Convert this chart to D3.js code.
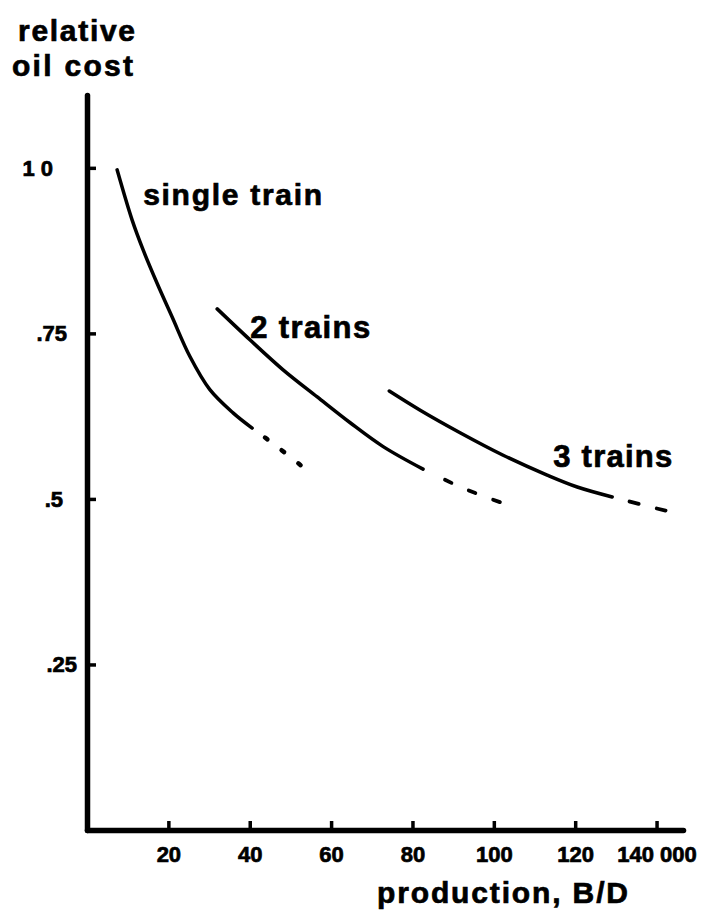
<!DOCTYPE html>
<html>
<head>
  <title>Relative oil cost</title>
  <script src="https://d3js.org/d3.v7.min.js"></script>
  <style>
    body { margin: 0; background: #fff; }
    text { font-family: "Liberation Sans", Arial, sans-serif; font-weight: bold; fill: #000; stroke: #000; stroke-width: 0.7px; }
  </style>
</head>
<body>
  <svg width="707" height="916"></svg>

  <script>
    // values: x = production (thousand B/D), y = relative oil cost
    const singleX = [7.4, 11.1, 13.8, 17.2, 20.9, 25.3, 30.2, 35.9, 40.6];
    const singleY = [0.997, 0.921, 0.876, 0.826, 0.775, 0.715, 0.665, 0.630, 0.607];
    const singleDashX = [40.6, 46.5, 52.5];
    const singleDashY = [0.607, 0.580, 0.551];

    const twoX = [32.0, 40.1, 48.2, 56.6, 64.7, 72.8, 82.6];
    const twoY = [0.787, 0.740, 0.695, 0.654, 0.615, 0.579, 0.545];
    const twoDashX = [82.6, 92.2, 102.0];
    const twoDashY = [0.545, 0.517, 0.494];

    const threeX = [74.3, 81.9, 91.7, 102.3, 113.1, 120.5, 129.1];
    const threeY = [0.663, 0.634, 0.600, 0.566, 0.536, 0.518, 0.503];
    const threeDashX = [129.1, 136.5, 143.8];
    const threeDashY = [0.503, 0.491, 0.480];

    const seriesNames = ["single train", "2 trains", "3 trains"];

    const xTicks = [20, 40, 60, 80, 100, 120, 140];
    const xTickLabels = ["20", "40", "60", "80", "100", "120", "140 000"];
    const yTicks = [1, 0.75, 0.5, 0.25];
    const yTickLabels = ["1 0", ".75", ".5", ".25"];

    const svg = d3.select("svg");

    const x = d3.scaleLinear().domain([0, 146.5]).range([87, 683]);
    const y = d3.scaleLinear().domain([0, 1.11]).range([830, 95]);

    // axes
    const yAxis = svg.append("g")
      .attr("transform", "translate(" + x(0) + ",0)")
      .call(d3.axisLeft(y)
        .tickValues(yTicks)
        .tickSizeInner(-9)
        .tickSizeOuter(0)
        .tickFormat((d, i) => yTickLabels[i]));

    const xAxis = svg.append("g")
      .attr("transform", "translate(0," + y(0) + ")")
      .call(d3.axisBottom(x)
        .tickValues(xTicks)
        .tickSizeInner(-9)
        .tickSizeOuter(0)
        .tickFormat((d, i) => xTickLabels[i]));

    svg.selectAll(".domain")
      .attr("stroke", "#000")
      .attr("stroke-width", 5.5)
      .attr("stroke-linecap", "round");
    svg.selectAll(".tick line")
      .attr("stroke", "#000")
      .attr("stroke-width", 3.5);
    svg.selectAll(".tick text").style("font-size", "22px");

    // y labels sit a little unevenly in the scan
    const yLabelEnd = [-34, -20, -24, -10];
    yAxis.selectAll(".tick text")
      .attr("x", (d, i) => yLabelEnd[i])
      .attr("dy", "0.33em");
    xAxis.selectAll(".tick text")
      .attr("y", 32)
      .attr("dy", null);

    // curves
    const line = d3.line()
      .x(d => x(d[0]))
      .y(d => y(d[1]))
      .curve(d3.curveCatmullRom.alpha(0.5));

    const solid = [
      d3.zip(singleX, singleY),
      d3.zip(twoX, twoY),
      d3.zip(threeX, threeY)
    ];
    const dashed = [
      d3.zip(singleDashX, singleDashY),
      d3.zip(twoDashX, twoDashY),
      d3.zip(threeDashX, threeDashY)
    ];

    svg.selectAll(".curve")
      .data(solid)
      .enter()
      .append("path")
      .attr("class", "curve")
      .attr("d", line)
      .attr("fill", "none")
      .attr("stroke", "#000")
      .attr("stroke-width", 3.5)
      .attr("stroke-linecap", "round");

    // dash pattern that begins with a gap: [firstGap, dash, gap, count]
    const dashStyles = [[16, 3, 18, 3], [24.5, 7, 19, 3], [18, 9, 19, 2]];
    function dashArray(s) {
      const arr = [];
      for (let i = 0; i < s[3]; i++) arr.push(s[1], i < s[3] - 1 ? s[2] : s[0]);
      return arr;
    }

    svg.selectAll(".dashed")
      .data(dashed)
      .enter()
      .append("path")
      .attr("class", "dashed")
      .attr("d", line)
      .attr("fill", "none")
      .attr("stroke", "#000")
      .attr("stroke-width", (d, i) => i === 0 ? 4.5 : 3.8)
      .attr("stroke-linecap", "round")
      .attr("stroke-dasharray", (d, i) => dashArray(dashStyles[i]).join(","))
      .attr("stroke-dashoffset", (d, i) => d3.sum(dashArray(dashStyles[i])) - dashStyles[i][0]);

    // curve labels
    const labelPos = [[13.8, 0.944, 179, 30], [40.1, 0.743, 120, 31], [114.6, 0.548, 119, 31]];
    svg.selectAll(".seriesLabel")
      .data(seriesNames)
      .enter()
      .append("text")
      .attr("class", "seriesLabel")
      .attr("x", (d, i) => x(labelPos[i][0]))
      .attr("y", (d, i) => y(labelPos[i][1]))
      .attr("textLength", (d, i) => labelPos[i][2])
      .attr("lengthAdjust", "spacing")
      .style("font-size", (d, i) => labelPos[i][3] + "px")
      .text(d => d);

    // axis titles
    svg.append("text")
      .attr("x", 18).attr("y", 41)
      .attr("textLength", 117).attr("lengthAdjust", "spacing")
      .style("font-size", "30px")
      .text("relative");
    svg.append("text")
      .attr("x", 12).attr("y", 76)
      .attr("textLength", 121).attr("lengthAdjust", "spacing")
      .style("font-size", "30px")
      .text("oil cost");
    svg.append("text")
      .attr("x", 377).attr("y", 903)
      .attr("textLength", 251).attr("lengthAdjust", "spacing")
      .style("font-size", "30px")
      .text("production, B/D");
  </script>
</body>
</html>
